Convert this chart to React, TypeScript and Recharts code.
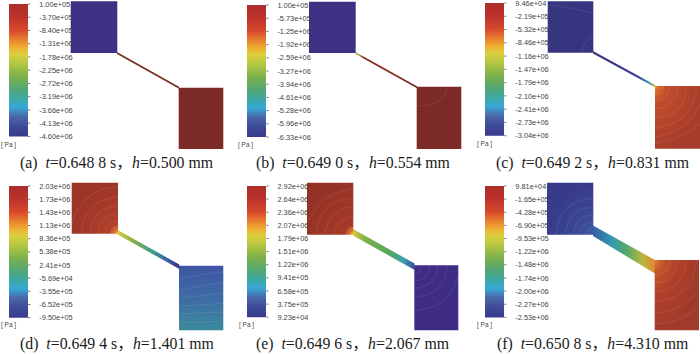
import { BarChart, Bar, ComposedChart, Area, Line, XAxis, YAxis } from 'recharts';

// Colour scale readings, one list per frame (Pa)
const pressureA = [1.0e5, -3.7e5, -8.4e5, -1.31e6, -1.78e6, -2.25e6, -2.72e6, -3.19e6, -3.66e6, -4.13e6, -4.6e6];
const pressureB = [1.0e5, -5.73e5, -1.25e6, -1.92e6, -2.59e6, -3.27e6, -3.94e6, -4.61e6, -5.28e6, -5.96e6, -6.33e6];
const pressureC = [9.46e4, -2.19e5, -5.32e5, -8.46e5, -1.16e6, -1.47e6, -1.79e6, -2.1e6, -2.41e6, -2.73e6, -3.04e6];
const pressureD = [2.03e6, 1.73e6, 1.43e6, 1.13e6, 8.36e5, 5.38e5, 2.41e5, -5.69e4, -3.55e5, -6.52e5, -9.5e5];
const pressureE = [2.92e6, 2.64e6, 2.36e6, 2.07e6, 1.79e6, 1.51e6, 1.22e6, 9.41e5, 6.58e5, 3.75e5, 9.23e4];
const pressureF = [9.81e4, -1.65e5, -4.28e5, -6.9e5, -9.53e5, -1.22e6, -1.48e6, -1.74e6, -2.0e6, -2.27e6, -2.53e6];

const frameIds = ['a', 'b', 'c', 'd', 'e', 'f'];
const frameTimes = ['0.648 8', '0.649 0', '0.649 2', '0.649 4', '0.649 6', '0.650 8'];
const frameGaps = ['0.500', '0.554', '0.831', '1.401', '2.067', '4.310'];
const framePressures = [pressureA, pressureB, pressureC, pressureD, pressureE, pressureF];

// Chamber and channel outlines as [x, yTop, yBottom] on the sheet's own grid
const chambersUpper = [
  [[70.7, 1.3, 53], [117.3, 1.3, 53]],
  [[309, 1.7, 53], [355.7, 1.7, 53]],
  [[547.7, 1.3, 52.7], [593.3, 1.3, 52.7]],
  [[71.7, 182.7, 233.7], [118, 182.7, 233.7]],
  [[307, 182.7, 234.7], [353.3, 182.7, 234.7]],
  [[547, 182.7, 234.7], [593.3, 182.7, 234.7]],
];
const chambersLower = [
  [[178.7, 87.7, 149], [223.3, 87.7, 149]],
  [[416.7, 86.7, 149], [461.3, 86.7, 149]],
  [[655, 86, 148.7], [700, 86, 148.7]],
  [[179, 265.7, 330.3], [223.3, 265.7, 330.3]],
  [[414.3, 265.3, 330.3], [458.3, 265.3, 330.3]],
  [[654.7, 260, 330.3], [699, 260, 330.3]],
];
const channels = [
  [[117, 52, 53.9], [179, 86.8, 88.7]],
  [[355.4, 52, 54], [417, 86.2, 88.2]],
  [[593, 51, 53.6], [655.3, 85, 87.6]],
  [[117.7, 230, 234.5], [179.3, 264.5, 269]],
  [[353, 229, 235.5], [414.6, 263.5, 270]],
  [[593, 225.5, 236], [655, 260, 273.5]],
];

// Pressure contours traced from the frames, [x, y]
const contours = [
  // b, lower chamber
  [[447, 87], [443, 97], [432, 104], [417, 106]],
  // c, upper chamber
  [[593, 36], [586, 42], [581, 52]],
  [[548, 5], [570, 8], [593, 13]],
  // c, lower chamber
  [[663, 86], [662, 90], [659, 93], [655, 94]],
  [[670, 86], [668, 93.5], [662.5, 99], [655, 101]],
  [[678, 86], [675, 97.5], [666.5, 106], [655, 109]],
  [[687, 86], [683, 102], [671, 114], [655, 118]],
  [[697, 86], [691, 107], [676, 122], [655, 128]],
  [[700, 104], [690, 120], [673, 132], [655, 137]],
  [[700, 124], [685, 134], [670, 140], [655, 143]],
  // d, upper chamber
  [[111, 233.7], [112, 230], [114.5, 227.6], [118, 226.7]],
  [[105, 233.7], [106.7, 227.2], [111.5, 222.4], [118, 220.7]],
  [[98, 233.7], [100.7, 223.7], [108, 216.4], [118, 213.7]],
  [[90, 233.7], [93.7, 219.7], [104, 209.5], [118, 205.7]],
  [[81, 233.7], [86, 215.2], [99.5, 201.7], [118, 196.7]],
  [[72, 225], [77.3, 210.2], [94.5, 193], [118, 186.7]],
  // d, lower chamber
  [[179, 279], [200, 275], [223.3, 272]],
  [[179, 290], [200, 286], [223.3, 283]],
  [[179, 298], [200, 296], [223.3, 293]],
  [[179, 306], [200, 305], [223.3, 303]],
  [[179, 314], [200, 313], [223.3, 312]],
  [[179, 322], [200, 322], [223.3, 321]],
  // e, upper chamber
  [[346, 234.7], [347, 231], [350, 228.6], [353.3, 227.7]],
  [[334, 234.7], [336, 226.7], [343.3, 219.4], [353.3, 216.7]],
  [[325, 234.7], [329, 220.7], [339.3, 210.5], [353.3, 206.7]],
  [[316, 234.7], [321, 216.2], [334.8, 202.7], [353.3, 197.7]],
  [[308, 222], [318, 205], [332, 195], [353.3, 188]],
  // e, lower chamber
  [[422, 265.3], [421, 269], [418, 272.5], [414.3, 273.3]],
  [[430, 265.3], [428, 273], [422, 279], [414.3, 281]],
  [[438, 265.3], [435, 277], [426, 285.5], [414.3, 288.5]],
  [[447, 265.3], [443, 281], [431, 293], [414.3, 297.5]],
  [[458, 276], [450, 294], [434, 306], [414.3, 311]],
  // f, upper chamber
  [[586, 234.7], [587, 231], [590, 228.6], [593.3, 227.7]],
  [[580, 234.7], [582, 228.2], [587, 223.4], [593.3, 221.7]],
  [[573, 234.7], [576, 224.7], [583, 217.4], [593.3, 214.7]],
  [[565, 234.7], [569, 220.7], [579, 210.5], [593.3, 206.7]],
  [[556, 234.7], [561, 216.2], [575, 202.7], [593.3, 197.7]],
  // f, lower chamber
  [[662.7, 260], [662, 264], [659, 267], [654.7, 268]],
  [[669.7, 260], [668, 267.5], [662, 273], [654.7, 275]],
  [[677.7, 260], [674.6, 271.5], [666.2, 280], [654.7, 283]],
  [[686.7, 260], [682.4, 276], [670.7, 287.7], [654.7, 292]],
  [[696.7, 260], [691, 281], [675.7, 296.4], [654.7, 302]],
  [[699, 289], [688.8, 300.6], [672.8, 309.8], [654.7, 313]],
  [[699, 306], [686.7, 315.4], [671.3, 321.8], [654.7, 324]],
];

// Placement and styling per frame
const barBoxes = [
  { left: 8.5, top: 4.3, width: 19.2, height: 132.4 },
  { left: 247.3, top: 4.7, width: 19.4, height: 132 },
  { left: 484.7, top: 3.3, width: 19.3, height: 132.7 },
  { left: 9, top: 186.3, width: 19.3, height: 131.7 },
  { left: 247.3, top: 186.3, width: 19.4, height: 131.2 },
  { left: 484.7, top: 186.3, width: 19.3, height: 131.4 },
];
const unitLeft = [1, 238, 477, 1, 239, 477];
const unitTop = [141, 141, 140, 321, 321, 321];
const captionLeft = [20, 256, 496, 20, 256, 497];
const captionTop = [154, 154, 154, 335, 335, 335];

const SCALE_STOPS = [
  ['0%', '#ac2e2a'], ['10%', '#bc322b'], ['20%', '#d84a2c'], ['28%', '#ea8a30'], ['33%', '#eeb034'],
  ['38%', '#dad03c'], ['45%', '#b4c642'], ['55%', '#7ab04c'], ['65%', '#50a67a'], ['72%', '#3ca8a8'],
  ['78%', '#36a8d6'], ['85%', '#4a68a8'], ['93%', '#3d4898'], ['100%', '#3a3a8c'],
];

const linear = (id: string, stops: string[][], vertical = false) => (
  <linearGradient id={id} x1="0" y1="0" x2={vertical ? '0' : '1'} y2={vertical ? '1' : '0'}>
    {stops.map(([o, c]) => <stop key={o} offset={o} stopColor={c} />)}
  </linearGradient>
);

const radial = (id: string, cx: string, cy: string, r: string, stops: string[][]) => (
  <radialGradient id={id} cx={cx} cy={cy} r={r}>
    {stops.map(([o, c]) => <stop key={o} offset={o} stopColor={c} />)}
  </radialGradient>
);

const upperFills = ['#3d3184', '#3d3184', '#37357f', 'url(#upD)', 'url(#upE)', 'url(#upF)'];
const lowerFills = ['#7b2a25', '#7b2a25', 'url(#lowC)', 'url(#lowD)', '#3f2d85', 'url(#lowF)'];
const channelFills = ['#7a2c28', 'url(#chB)', 'url(#chC)', 'url(#chD)', 'url(#chE)', 'url(#chF)'];

const outlinePoints = (outline: number[][]) =>
  outline.map(([x, top, bottom]) => ({ x, band: [top, bottom] }));

const contourPoints = (line: number[][]) => line.map(([x, y]) => ({ x, y }));

const formatPressure = (value: number) =>
  value.toExponential(2).replace(/e([+-])(\d)$/, 'e$10$2');

function FlowField() {
  return (
    <ComposedChart
      width={700}
      height={354}
      margin={{ top: 0, right: 0, bottom: 0, left: 0 }}
      style={{ position: 'absolute', left: 0, top: 0 }}
    >
      <defs>
        {linear('chB', [['0%', '#8fb8a0'], ['6%', '#c8a840'], ['14%', '#8b2c24'], ['100%', '#7a2c28']])}
        {linear('chC', [['0%', '#37357f'], ['72%', '#3b3f92'], ['90%', '#37a0c8'], ['100%', '#d8c038']])}
        {linear('chD', [['0%', '#dccc3a'], ['25%', '#88b048'], ['55%', '#40a08a'], ['75%', '#3a70a8'], ['100%', '#3a3480']])}
        {linear('chE', [['0%', '#d4c83c'], ['20%', '#7fb048'], ['60%', '#55a860'], ['82%', '#38a0b0'], ['100%', '#3c4c9c']])}
        {linear('chF', [['0%', '#3a5ca8'], ['30%', '#3398b0'], ['55%', '#58a868'], ['80%', '#b8b83e'], ['100%', '#e08a30']])}
        {radial('upD', '100%', '100%', '105%', [['0%', '#f4c848'], ['7%', '#e07430'], ['18%', '#b0402a'], ['100%', '#9c3428']])}
        {radial('upE', '100%', '100%', '105%', [['0%', '#f8d050'], ['8%', '#e06c2e'], ['18%', '#a63a28'], ['100%', '#953226']])}
        {radial('upF', '100%', '100%', '100%', [['0%', '#3c5ca4'], ['30%', '#3a4a96'], ['100%', '#383a8a']])}
        {radial('lowC', '0%', '0%', '105%', [['0%', '#f0b030'], ['6%', '#d8702c'], ['25%', '#c04c2b'], ['100%', '#a83c2a']])}
        {linear('lowD', [['0%', '#3f55a4'], ['55%', '#3d6ea4'], ['100%', '#3a8a9c']], true)}
        {radial('lowF', '0%', '0%', '100%', [['0%', '#dc8430'], ['15%', '#c4562c'], ['50%', '#b0402a'], ['100%', '#a23a2a']])}
      </defs>
      <XAxis type="number" dataKey="x" domain={[0, 700]} hide />
      <YAxis type="number" domain={[0, 354]} reversed hide />
      {channels.map((outline, i) => (
        <Area
          key={`channel-${i}`}
          data={outlinePoints(outline)}
          dataKey="band"
          type="linear"
          stroke="none"
          fill={channelFills[i]}
          fillOpacity={1}
          dot={false}
          activeDot={false}
          isAnimationActive={false}
        />
      ))}
      {chambersUpper.map((outline, i) => (
        <Area
          key={`upper-${i}`}
          data={outlinePoints(outline)}
          dataKey="band"
          type="linear"
          stroke="none"
          fill={upperFills[i]}
          fillOpacity={1}
          dot={false}
          activeDot={false}
          isAnimationActive={false}
        />
      ))}
      {chambersLower.map((outline, i) => (
        <Area
          key={`lower-${i}`}
          data={outlinePoints(outline)}
          dataKey="band"
          type="linear"
          stroke="none"
          fill={lowerFills[i]}
          fillOpacity={1}
          dot={false}
          activeDot={false}
          isAnimationActive={false}
        />
      ))}
      {contours.map((line, i) => (
        <Line
          key={`contour-${i}`}
          data={contourPoints(line)}
          dataKey="y"
          type="natural"
          stroke="#ffffff"
          strokeOpacity={0.13}
          strokeWidth={0.7}
          dot={false}
          activeDot={false}
          isAnimationActive={false}
        />
      ))}
    </ComposedChart>
  );
}

function ColourScale({ index }: { index: number }) {
  const pressures = framePressures[index];
  const box = barBoxes[index];
  // the legend's labels sit at equal steps, so it is drawn on label slots, top slot highest
  const lastSlot = pressures.length - 1;
  const slots = pressures.map((_, i) => lastSlot - i);
  return (
    <BarChart
      width={box.width + 48}
      height={box.height + 12}
      data={[{ name: 'scale', range: [0, lastSlot] }]}
      margin={{ top: 6, right: 0, bottom: 6, left: 0 }}
      barCategoryGap={0}
      style={{ position: 'absolute', left: box.left, top: box.top - 6 }}
    >
      <defs>{linear(`scale-${index}`, SCALE_STOPS, true)}</defs>
      <XAxis dataKey="name" hide />
      <YAxis
        orientation="right"
        type="number"
        domain={[0, lastSlot]}
        ticks={slots}
        interval={0}
        width={48}
        tickFormatter={(slot: number) => formatPressure(pressures[lastSlot - slot])}
        tick={{ fontSize: 7.4, fill: '#444', fontFamily: '"Liberation Sans"' }}
        tickLine={{ stroke: '#666' }}
        tickSize={2}
        tickMargin={9}
        axisLine={false}
      />
      <Bar dataKey="range" fill={`url(#scale-${index})`} isAnimationActive={false} />
    </BarChart>
  );
}

export default function App() {
  return (
    <div style={{ position: 'absolute', left: 0, top: 0, width: 700, height: 354, background: '#fff', overflow: 'hidden' }}>
      <FlowField />
      {frameIds.map((id, i) => (
        <div key={id}>
          <ColourScale index={i} />
          <div
            style={{
              position: 'absolute',
              left: unitLeft[i],
              top: unitTop[i],
              font: '6.5px "Liberation Sans"',
              color: '#444',
              whiteSpace: 'pre',
            }}
          >
            [ Pa ]
          </div>
          <div
            style={{
              position: 'absolute',
              left: captionLeft[i],
              top: captionTop[i],
              font: '15.8px/18px "Liberation Serif", "Noto Sans CJK SC"',
              color: '#1a1a1a',
              whiteSpace: 'pre',
            }}
          >
            ({id})  <i>t</i>={frameTimes[i]} s，<i>h</i>={frameGaps[i]} mm
          </div>
        </div>
      ))}
    </div>
  );
}
